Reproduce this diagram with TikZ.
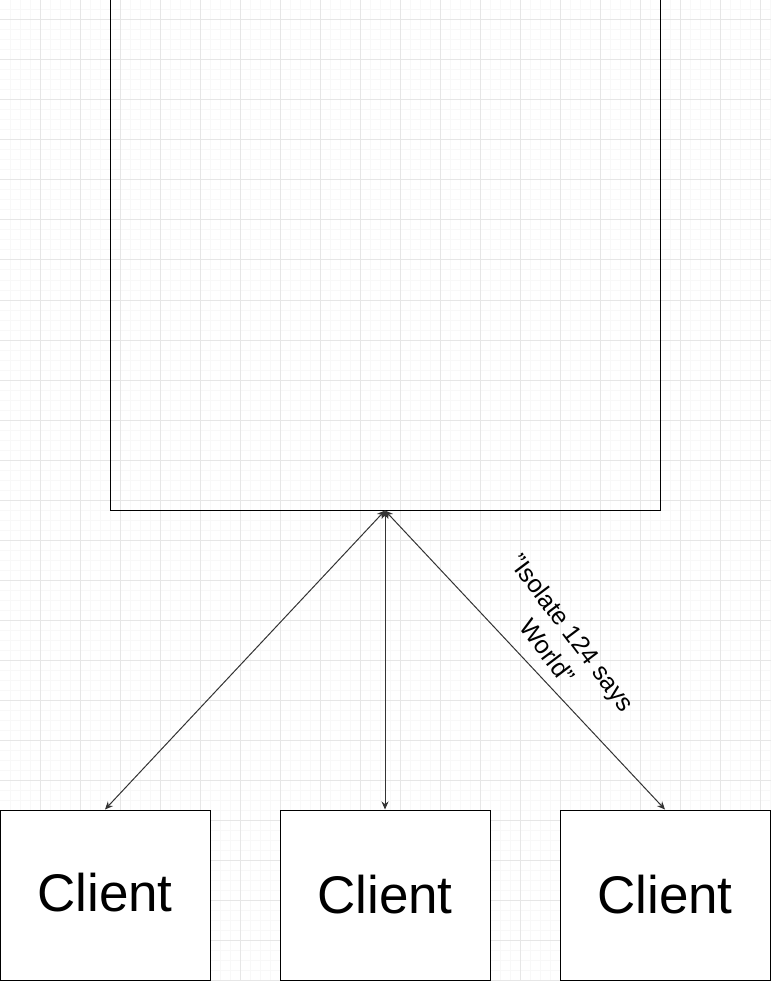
\documentclass[tikz,border=0pt]{standalone}
\usepackage{fontspec}
\setmainfont{Liberation Sans}
\usetikzlibrary{arrows.meta}
\definecolor{gridminor}{HTML}{F8F8F8}
\definecolor{gridmajor}{HTML}{E6E6E6}
\begin{document}
\begin{tikzpicture}[x=1pt,y=-1pt,
  box/.style={draw=black, line width=1pt, inner sep=0pt},
  client/.style={box, fill=white, minimum width=210pt, minimum height=170pt, font=\fontsize{53}{60}\selectfont},
  link/.style={draw=black!80, line width=1pt, {Stealth[length=8pt,width=7pt]}-{Stealth[length=8pt,width=7pt]}},
  lbl/.style={font=\fontsize{25}{31}\selectfont, align=center, inner sep=0pt}]
\useasboundingbox (0,0) rectangle (771,981);
\fill[white] (0,0) rectangle (771,981);
\foreach \x in {10,20,...,770} \draw[gridminor, line width=1pt] (\x,0) -- (\x,981);
\foreach \y in {10,20,...,980} \draw[gridminor, line width=1pt] (0,\y) -- (771,\y);
\foreach \x in {40,80,...,760} \draw[gridmajor, line width=1pt] (\x,0) -- (\x,981);
\foreach \y in {20,60,...,980} \draw[gridmajor, line width=1pt] (0,\y) -- (771,\y);
\node[box, minimum width=550pt, minimum height=510pt] (server) at (385,255) {};
\node[client] (c1) at (105,895) {\raisebox{5pt}{Client}};
\node[client] (c2) at (385,895) {Client};
\node[client] (c3) at (665,895) {\raisebox{2pt}{Client}};
\draw[link] (server.south) -- (c1.north);
\draw[link] (server.south) -- (c2.north);
\draw[link] (server.south) -- (c3.north);
\node[lbl, rotate=-53] (msg) at (560,642) {\symbol{34}Isolate 124 says\\World\symbol{34}};
\end{tikzpicture}
\end{document}
